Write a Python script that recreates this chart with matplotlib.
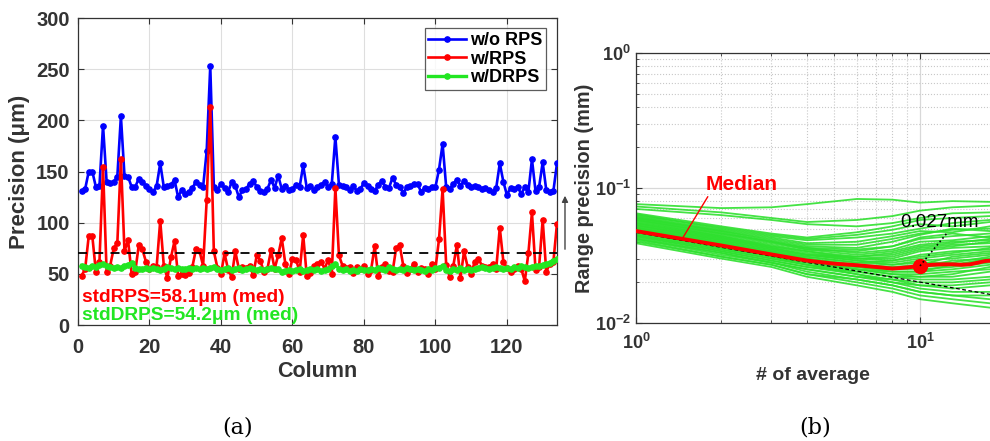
import matplotlib
matplotlib.use("Agg")
import matplotlib.pyplot as plt
import numpy as np

plt.rcParams['font.family'] = ['Liberation Sans', 'DejaVu Sans']
plt.rcParams['font.weight'] = 'bold'
plt.rcParams['mathtext.fontset'] = 'custom'
plt.rcParams['mathtext.rm'] = 'Liberation Sans:bold'
plt.rcParams['mathtext.bf'] = 'Liberation Sans:bold'

# ---------------- Panel (a) data ----------------
columns = list(range(1, 135))
wo_rps = [131, 133, 150, 150, 135, 136, 195, 140, 139, 140,
          145, 204, 146, 145, 135, 135, 143, 140, 136, 133,
          130, 136, 158, 135, 136, 137, 142, 125, 132, 128,
          130, 134, 140, 137, 135, 170, 253, 135, 132, 138,
          134, 130, 140, 136, 125, 132, 133, 138, 141, 135,
          131, 130, 133, 142, 134, 146, 133, 136, 132, 133,
          137, 135, 156, 134, 136, 132, 135, 137, 140, 135,
          138, 184, 137, 136, 135, 132, 136, 131, 133, 139,
          136, 133, 131, 137, 141, 135, 134, 144, 137, 135,
          129, 135, 136, 138, 138, 130, 134, 133, 135, 135,
          152, 177, 135, 133, 138, 142, 136, 141, 137, 135,
          136, 135, 133, 134, 132, 130, 134, 158, 140, 127,
          134, 133, 135, 128, 135, 130, 162, 131, 135, 159,
          132, 130, 131, 158]
w_rps = [48, 55, 87, 87, 52, 62, 154, 52, 58, 75,
         80, 162, 72, 83, 50, 52, 78, 74, 62, 55,
         58, 57, 102, 58, 46, 66, 82, 48, 50, 49,
         51, 57, 74, 72, 58, 122, 213, 72, 56, 50,
         70, 54, 47, 72, 55, 57, 56, 58, 49, 68,
         63, 52, 55, 73, 55, 68, 85, 60, 50, 65,
         64, 52, 88, 48, 51, 58, 60, 62, 55, 64,
         50, 134, 68, 58, 56, 57, 51, 57, 55, 58,
         50, 54, 77, 48, 57, 60, 53, 52, 75, 78,
         58, 51, 55, 60, 52, 56, 55, 50, 60, 55,
         84, 133, 59, 47, 58, 78, 46, 72, 57, 50,
         62, 65, 58, 57, 57, 60, 55, 95, 62, 56,
         52, 55, 58, 55, 43, 70, 110, 54, 57, 103,
         52, 60, 62, 99]
w_drps = [58, 57, 56, 58, 57, 59, 60, 58, 57, 56,
          57, 56, 58, 59, 61, 56, 55, 55, 56, 55,
          56, 55, 54, 55, 57, 56, 55, 56, 55, 55,
          56, 55, 56, 55, 56, 55, 56, 57, 55, 54,
          55, 56, 54, 55, 56, 54, 55, 56, 55, 54,
          55, 54, 55, 56, 55, 55, 52, 53, 54, 53,
          54, 55, 53, 54, 55, 54, 55, 53, 54, 55,
          58, 60, 55, 54, 55, 53, 54, 53, 55, 54,
          54, 55, 54, 56, 55, 54, 57, 55, 54, 55,
          54, 56, 55, 54, 55, 54, 53, 55, 54, 56,
          56, 58, 54, 53, 55, 54, 56, 54, 55, 54,
          55, 56, 57, 56, 55, 56, 57, 56, 55, 56,
          55, 57, 56, 58, 57, 56, 57, 58, 58, 59,
          60, 61, 63, 65]
threshold = 70
series_labels = ['w/o RPS', 'w/RPS', 'w/DRPS']
note_rps = 'stdRPS=58.1\u03bcm (med)'
note_drps = 'stdDRPS=54.2\u03bcm (med)'

# ---------------- Panel (b) data ----------------
avg_x = [1, 2, 3, 4, 6, 8, 10, 13, 17.6]
green_curves = [
    [0.076, 0.071, 0.072, 0.076, 0.083, 0.082, 0.078, 0.080, 0.079],
    [0.073, 0.066, 0.060, 0.056, 0.058, 0.062, 0.068, 0.072, 0.074],
    [0.070, 0.063, 0.058, 0.054, 0.052, 0.055, 0.060, 0.065, 0.066],
    [0.065, 0.052, 0.046, 0.043, 0.047, 0.052, 0.058, 0.060, 0.062],
    [0.064, 0.050, 0.044, 0.041, 0.043, 0.046, 0.050, 0.055, 0.058],
    [0.062, 0.049, 0.043, 0.039, 0.040, 0.044, 0.048, 0.047, 0.052],
    [0.061, 0.048, 0.041, 0.037, 0.036, 0.040, 0.045, 0.050, 0.048],
    [0.060, 0.047, 0.040, 0.036, 0.035, 0.037, 0.042, 0.044, 0.046],
    [0.059, 0.046, 0.040, 0.036, 0.033, 0.035, 0.040, 0.041, 0.044],
    [0.058, 0.045, 0.039, 0.035, 0.032, 0.034, 0.038, 0.040, 0.041],
    [0.057, 0.044, 0.038, 0.034, 0.031, 0.032, 0.036, 0.038, 0.039],
    [0.056, 0.044, 0.037, 0.034, 0.030, 0.030, 0.034, 0.036, 0.037],
    [0.055, 0.043, 0.037, 0.033, 0.030, 0.029, 0.032, 0.034, 0.035],
    [0.054, 0.042, 0.036, 0.032, 0.029, 0.028, 0.030, 0.032, 0.034],
    [0.053, 0.041, 0.035, 0.032, 0.029, 0.027, 0.029, 0.030, 0.032],
    [0.052, 0.041, 0.035, 0.031, 0.028, 0.027, 0.028, 0.028, 0.031],
    [0.051, 0.040, 0.034, 0.030, 0.027, 0.026, 0.026, 0.027, 0.030],
    [0.050, 0.039, 0.033, 0.030, 0.026, 0.025, 0.025, 0.026, 0.028],
    [0.049, 0.038, 0.033, 0.029, 0.026, 0.024, 0.024, 0.025, 0.027],
    [0.048, 0.037, 0.032, 0.029, 0.025, 0.023, 0.023, 0.024, 0.025],
    [0.047, 0.037, 0.031, 0.028, 0.025, 0.023, 0.022, 0.022, 0.024],
    [0.046, 0.036, 0.031, 0.027, 0.024, 0.022, 0.021, 0.021, 0.022],
    [0.045, 0.035, 0.030, 0.027, 0.023, 0.021, 0.020, 0.020, 0.021],
    [0.044, 0.034, 0.029, 0.026, 0.023, 0.020, 0.019, 0.018, 0.019],
    [0.043, 0.033, 0.028, 0.025, 0.022, 0.020, 0.018, 0.017, 0.017],
    [0.042, 0.032, 0.028, 0.024, 0.021, 0.019, 0.017, 0.016, 0.015],
    [0.041, 0.031, 0.027, 0.023, 0.020, 0.018, 0.016, 0.015, 0.014],
    [0.039, 0.030, 0.026, 0.022, 0.019, 0.017, 0.015, 0.014, 0.013],
    [0.063, 0.051, 0.045, 0.042, 0.045, 0.049, 0.054, 0.052, 0.056],
    [0.060, 0.048, 0.042, 0.038, 0.038, 0.042, 0.046, 0.049, 0.050],
    [0.058, 0.046, 0.040, 0.035, 0.034, 0.037, 0.043, 0.046, 0.043],
    [0.055, 0.043, 0.036, 0.032, 0.031, 0.033, 0.037, 0.039, 0.042],
    [0.053, 0.042, 0.036, 0.032, 0.030, 0.031, 0.035, 0.037, 0.040],
    [0.051, 0.040, 0.034, 0.031, 0.028, 0.029, 0.031, 0.033, 0.036],
    [0.050, 0.039, 0.034, 0.030, 0.027, 0.026, 0.027, 0.031, 0.033],
    [0.047, 0.036, 0.031, 0.028, 0.026, 0.025, 0.026, 0.029, 0.030],
    [0.045, 0.035, 0.030, 0.027, 0.025, 0.024, 0.024, 0.027, 0.029],
    [0.044, 0.034, 0.029, 0.026, 0.024, 0.022, 0.022, 0.023, 0.026],
    [0.042, 0.033, 0.028, 0.025, 0.022, 0.021, 0.019, 0.019, 0.020],
    [0.040, 0.031, 0.027, 0.023, 0.021, 0.019, 0.017, 0.016, 0.016],
]
median_x = [1, 2, 3, 4, 5, 6, 7, 8, 9, 10, 11, 12, 13, 14, 15, 16, 17, 18]
median_y = [0.048, 0.0375, 0.0322, 0.029, 0.0275, 0.0268, 0.026, 0.0253, 0.0258,
            0.0265, 0.027, 0.0272, 0.0272, 0.027, 0.0272, 0.028, 0.0288, 0.029]
fit_x = [1, 20]
fit_y = [0.047, 0.01556]
marker_x, marker_y = 10, 0.0265

fig = plt.figure(figsize=(9.9, 4.41), dpi=100)

# ---------------- Panel (a) ----------------
ax1 = fig.add_axes([0.0788, 0.263, 0.4838, 0.696])
blue, red, green = '#0000ff', '#ff0000', '#22e622'
ax1.plot(columns, wo_rps, '-o', color=blue, lw=1.9, ms=3.8, label=series_labels[0], zorder=3)
ax1.plot(columns, w_rps, '-o', color=red, lw=1.9, ms=3.8, label=series_labels[1], zorder=4)
ax1.plot(columns, w_drps, '-o', color=green, lw=2.4, ms=3.8, label=series_labels[2], zorder=5)
ax1.axhline(threshold, color='black', ls=(0, (5, 4)), lw=1.3, zorder=6)
ax1.set_xlim(0, 134)
ax1.set_ylim(0, 300)
ax1.set_xticks(range(0, 121, 20))
ax1.set_yticks(range(0, 301, 50))
ax1.grid(True, color='#dedede', lw=0.8)
ax1.set_axisbelow(True)
ax1.tick_params(direction='in', top=True, right=True, labelsize=14.5, pad=6, length=4,
                color='#333333')
ax1.tick_params(axis='x', pad=9)
for s in ax1.spines.values():
    s.set_color('#333333')
    s.set_linewidth(0.9)
ax1.set_xlabel('Column', fontsize=15.5, fontweight='bold', labelpad=3, color='#333333')
ax1.set_ylabel('Precision (\u03bcm)', fontsize=16, fontweight='bold', labelpad=4, color='#333333')
for lab in ax1.get_xticklabels() + ax1.get_yticklabels():
    lab.set_color('#333333')
leg = ax1.legend(loc='upper right', bbox_to_anchor=(0.977, 0.967), fontsize=13,
                 frameon=True, fancybox=False, edgecolor='#333333', handlelength=2.1,
                 borderpad=0.2, labelspacing=0.1, handletextpad=0.2, borderaxespad=0)
leg.get_frame().set_linewidth(0.9)
ax1.text(1, 27, note_rps, color=red, fontsize=13.8, fontweight='bold', va='center', zorder=7)
ax1.text(1, 9, note_drps, color=green, fontsize=13.8, fontweight='bold', va='center', zorder=7)

# small arrow at the right edge of panel (a)
fig.patches.append(matplotlib.patches.FancyArrowPatch(
    (0.5707, 0.4286), (0.5707, 0.5624), transform=fig.transFigure,
    arrowstyle='-|>', mutation_scale=9, color='#444444', lw=1.0))

# ---------------- Panel (b) ----------------
ax2 = fig.add_axes([0.6424, 0.2676, 0.3576, 0.612])
ax2.set_xscale('log')
ax2.set_yscale('log')
for c in green_curves:
    ax2.plot(avg_x, c, color='#2fe02f', lw=1.3, alpha=0.9, zorder=2)
ax2.plot(fit_x, fit_y, color='black', ls=(0, (3, 2)), lw=0.9, zorder=4)
ax2.plot(median_x, median_y, color='#ff0000', lw=2.8, zorder=5)
ax2.plot([marker_x], [marker_y], 'o', color='#ff0000', ms=10, zorder=6)
ax2.set_xlim(1, 10 ** (354 / 284))
ax2.set_ylim(0.01, 1)
ax2.grid(True, which='major', color='#d8d8d8', lw=0.9)
ax2.grid(True, which='minor', color='#c8c8c8', ls=':', lw=0.8)
ax2.set_axisbelow(True)
ax2.set_xticks([1, 10])
ax2.set_xticklabels([r'$\mathbf{10^{0}}$', r'$\mathbf{10^{1}}$'])
ax2.set_yticks([0.01, 0.1, 1])
ax2.set_yticklabels([r'$\mathbf{10^{-2}}$', r'$\mathbf{10^{-1}}$', r'$\mathbf{10^{0}}$'])
ax2.tick_params(which='both', direction='in', top=True, right=False, color='#333333')
ax2.tick_params(which='major', labelsize=13, length=4)
ax2.tick_params(which='minor', length=2)
ax2.tick_params(axis='x', pad=7)
ax2.spines['right'].set_visible(False)
for s in ax2.spines.values():
    s.set_color('#333333')
    s.set_linewidth(0.9)
for lab in ax2.get_xticklabels() + ax2.get_yticklabels():
    lab.set_color('#333333')
ax2.set_xlabel('# of average', fontsize=14, fontweight='bold', labelpad=10, color='#333333')
ax2.set_ylabel('Range precision (mm)', fontsize=14.3, fontweight='bold', labelpad=1, color='#333333')
ax2.annotate('Median', xy=(1.452, 0.0418), xytext=(2.36, 0.0905),
             color='#ff0000', fontsize=15, fontweight='bold', ha='center', va='bottom',
             arrowprops=dict(arrowstyle='-', color='#ff0000', lw=1.0, shrinkA=0, shrinkB=0,
                             relpos=(0.05, 0.0)), zorder=8)
ax2.plot([marker_x, 12.45], [marker_y, 0.0464], color='black', ls=':', lw=1.2, zorder=7)
ax2.text(11.67, 0.056, '0.027mm', fontsize=13.5, fontweight='normal', ha='center',
         va='center', color='black', zorder=8)

# captions
fig.text(0.2404, 0.03, '(a)', family='DejaVu Serif', fontweight='normal', fontsize=16,
         ha='center', va='center')
fig.text(0.823, 0.03, '(b)', family='DejaVu Serif', fontweight='normal', fontsize=16,
         ha='center', va='center')

fig.savefig('out.png', dpi=100)
